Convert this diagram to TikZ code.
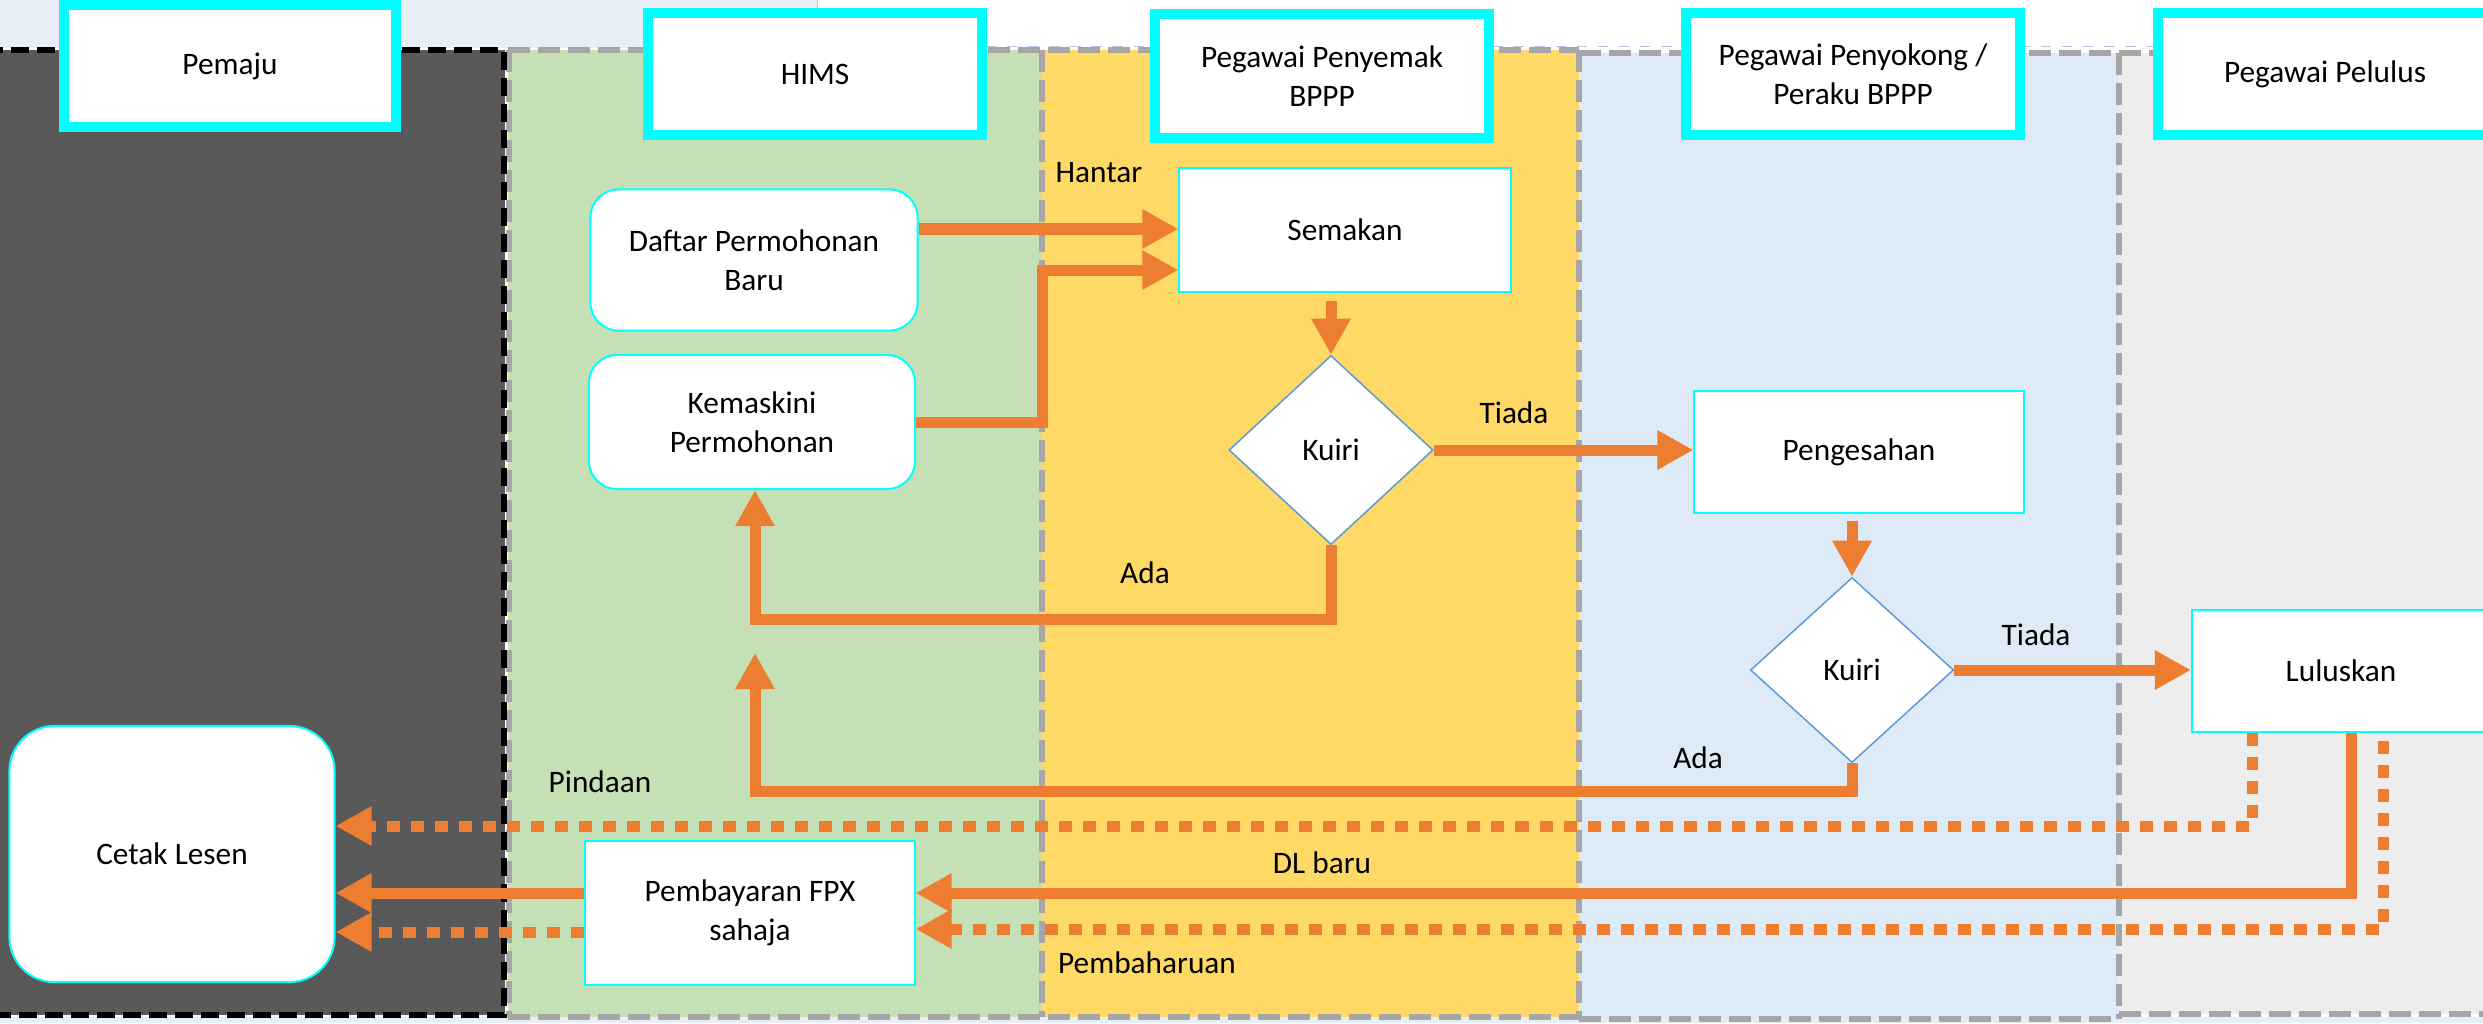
\documentclass[tikz,border=0pt]{standalone}
\usepackage{fontspec}
\setmainfont{Carlito}
\usetikzlibrary{arrows.meta,shapes.geometric,calc}

\definecolor{darklane}{HTML}{595959}
\definecolor{greenlane}{HTML}{C5E0B4}
\definecolor{yellowlane}{HTML}{FFD966}
\definecolor{bluelane}{HTML}{DEEBF7}
\definecolor{graylane}{HTML}{EDEDED}
\definecolor{flowor}{HTML}{ED7D31}
\definecolor{cyanb}{HTML}{00FFFF}
\definecolor{dborder}{HTML}{5B9BD5}
\definecolor{dashgray}{HTML}{A6A6A6}
\definecolor{topblue}{HTML}{E8EEF8}
\definecolor{thinblue}{HTML}{B4C7E7}

\begin{document}
\begin{tikzpicture}[x=0.01cm,y=-0.01cm,
  font=\fontsize{8.9}{11.1}\selectfont,
  header/.style={draw=cyanb, line width=0.1cm, fill=white, align=center, inner sep=0pt},
  procbox/.style={draw=cyanb, line width=0.02cm, fill=white, align=center, inner sep=0pt},
  roundbox/.style={procbox, rounded corners=0.28cm},
  decision/.style={diamond, draw=dborder, line width=0.015cm, fill=white, inner sep=0pt, align=center},
  flow/.style={draw=flowor, line width=0.11cm, line join=miter, -{Triangle[length=0.36cm,width=0.37cm]}},
  dotflow/.style={flow, dash pattern=on 0.13cm off 0.11cm},
  lbl/.style={inner sep=0pt, text=black},
  lanebd/.style={draw=dashgray, line width=0.06cm, dash pattern=on 0.22cm off 0.08cm},
  blackbd/.style={draw=black, line width=0.06cm, dash pattern=on 0.18cm off 0.08cm},
]
\useasboundingbox (0,0) rectangle (2483,1023);
\clip (0,0) rectangle (2483,1023);
\fill[white] (0,0) rectangle (2483,1023);

% top strip
\fill[topblue] (0,0) rectangle (817,48);
\fill[topblue] (0,1017) rectangle (2483,1023);
\draw[thinblue, line width=0.01cm, dashed] (817,46) -- (2483,46);
\draw[thinblue, line width=0.01cm] (817,0) -- (817,48);

% lanes
\fill[darklane] (0,50) rectangle (505,1015);
\fill[greenlane] (508,50) rectangle (1042,1017);
\fill[yellowlane] (1042,50) rectangle (1579,1017);
\fill[bluelane] (1579,53) rectangle (2119,1019);
\fill[graylane] (2119,53) rectangle (2500,1014);

% lane borders, each drawn once
\draw[lanebd] (508,50) -- (1579,50);
\draw[lanebd] (1579,53) -- (2490,53);
\draw[lanebd] (508,1017) -- (1579,1017);
\draw[lanebd] (1579,1019) -- (2119,1019);
\draw[lanebd] (2119,1014) -- (2490,1014);
\draw[lanebd] (509,50) -- (509,1017);
\draw[lanebd] (1042,50) -- (1042,1017);
\draw[lanebd] (1579,50) -- (1579,1019);
\draw[lanebd] (2119,53) -- (2119,1019);
\draw[blackbd] (-5,50) rectangle (504,1015);

% headers
\node[header, minimum width=3.31cm, minimum height=1.22cm] (hPemaju) at (230,66) {Pemaju};
\node[header, minimum width=3.33cm, minimum height=1.22cm] (hHims) at (815,74) {HIMS};
\node[header, minimum width=3.33cm, minimum height=1.23cm] (hSemak) at (1322,76) {Pegawai Penyemak\\BPPP};
\node[header, minimum width=3.34cm, minimum height=1.22cm] (hSokong) at (1853,74) {Pegawai Penyokong /\\Peraku BPPP};
\node[header, minimum width=3.33cm, minimum height=1.22cm] (hLulus) at (2325,74) {Pegawai Pelulus};

% process nodes
\node[roundbox, minimum width=3.27cm, minimum height=1.41cm] (daftar) at (754,260) {Daftar Permohonan\\Baru};
\node[roundbox, minimum width=3.26cm, minimum height=1.34cm] (kemaskini) at (752,422) {Kemaskini\\Permohonan};
\node[roundbox, rounded corners=0.45cm, minimum width=3.25cm, minimum height=2.56cm] (cetak) at (172,854) {Cetak Lesen};
\node[procbox, minimum width=3.29cm, minimum height=1.44cm] (bayar) at (750,913) {Pembayaran FPX\\sahaja};
\node[procbox, minimum width=3.31cm, minimum height=1.23cm] (semakan) at (1345,230) {Semakan};
\node[decision, minimum width=2.04cm, minimum height=1.89cm] (kuiri1) at (1331,450) {Kuiri};
\node[procbox, minimum width=3.29cm, minimum height=1.22cm] (sah) at (1859,452) {Pengesahan};
\node[decision, minimum width=2.03cm, minimum height=1.85cm] (kuiri2) at (1852,670) {Kuiri};
\node[procbox, minimum width=2.98cm, minimum height=1.22cm] (lulus) at (2341,671) {Luluskan};

% turning points
\coordinate (j1) at (1042,270);
\coordinate (a2) at (755,619);
\coordinate (b1) at (755,791);
\coordinate (b2) at (755,653);
\coordinate (c1) at (2351,893);
\coordinate (d1) at (2252,826);
\coordinate (e1) at (2383,929);

% connectors
\draw[flow] ([yshift=0.31cm]daftar.east) -- ([yshift=0.31cm]daftar.east -| semakan.west);
\draw[flow] (kemaskini.east) -| (j1) -- (j1 -| semakan.west);
\draw[flow] ([yshift=-0.08cm]semakan.south -| kuiri1.north) -- (kuiri1.north);
\draw[flow] (kuiri1.east) -- (kuiri1.east -| sah.west);
\draw[flow] (kuiri1.south) |- (a2) -- (a2 |- kemaskini.south);
\draw[flow] ([yshift=-0.07cm]sah.south -| kuiri2.north) -- (kuiri2.north);
\draw[flow] (kuiri2.east) -- (kuiri2.east -| lulus.west);
\draw[flow] (kuiri2.south) |- (b1) -- (b2);
\draw[flow] (lulus.south -| c1) -- (c1) -- (c1 -| bayar.east);
\draw[dotflow] (lulus.south -| d1) -- (d1) -- (d1 -| cetak.east);
\draw[dotflow] ([yshift=-0.08cm]lulus.south -| e1) -- (e1) -- (e1 -| bayar.east);
\draw[flow] ([yshift=0.2cm]bayar.west) -- ([yshift=0.2cm]bayar.west -| cetak.east);
\draw[dotflow] ([yshift=-0.19cm]bayar.west) -- ([yshift=-0.19cm]bayar.west -| cetak.east);

% labels
\node[lbl] (lHantar) at (1099,173) {Hantar};
\node[lbl] (lTiada1) at (1514,413) {Tiada};
\node[lbl] (lAda1) at (1145,573) {Ada};
\node[lbl] (lTiada2) at (2036,635) {Tiada};
\node[lbl] (lAda2) at (1698,758) {Ada};
\node[lbl] (lPindaan) at (600,782) {Pindaan};
\node[lbl] (lDL) at (1322,863) {DL baru};
\node[lbl] (lBaharu) at (1147,963) {Pembaharuan};
\end{tikzpicture}
\end{document}
